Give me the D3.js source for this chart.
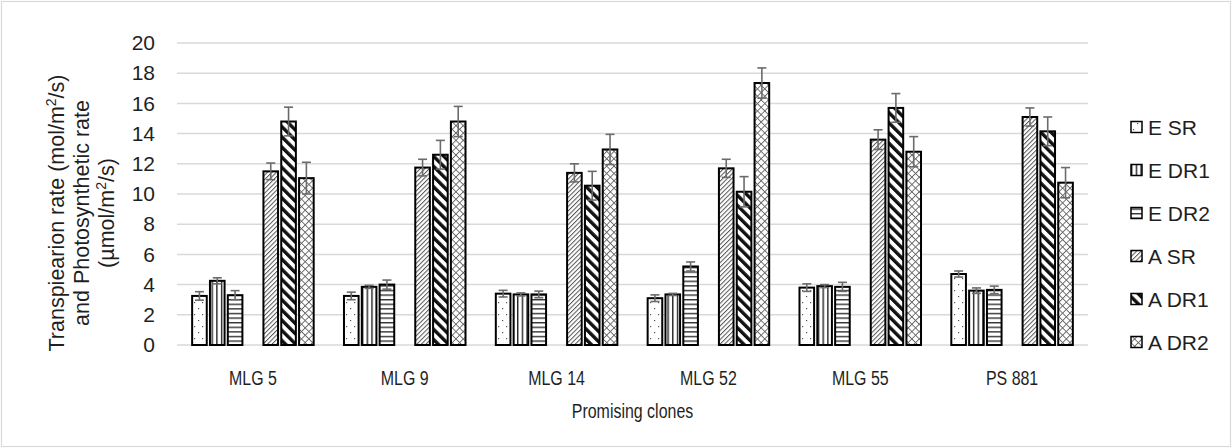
<!DOCTYPE html>
<html>
<head>
<meta charset="utf-8">
<script src="https://cdn.jsdelivr.net/npm/d3@7"></script>
<style>
  body { margin: 0; background: #fff; }
  text { font-family: "Liberation Sans", Arial, sans-serif; fill: #1f1f1f; }
</style>
</head>
<body>
<svg id="chart" width="1232" height="448"></svg>
<script>
// Clones on the x axis
const clones = ["MLG 5", "MLG 9", "MLG 14", "MLG 52", "MLG 55", "PS 881"];

// Series names (E = transpiration, A = photosynthesis; SR / DR1 / DR2 treatments)
const seriesNames = ["E SR", "E DR1", "E DR2", "A SR", "A DR1", "A DR2"];

// Means per clone
const eSR  = [3.25, 3.25, 3.40, 3.10, 3.80, 4.70];
const eDR1 = [4.25, 3.85, 3.35, 3.35, 3.90, 3.60];
const eDR2 = [3.30, 4.00, 3.35, 5.20, 3.85, 3.65];
const aSR  = [11.50, 11.75, 11.40, 11.70, 13.60, 15.10];
const aDR1 = [14.80, 12.60, 10.55, 10.15, 15.70, 14.15];
const aDR2 = [11.05, 14.80, 12.95, 17.35, 12.80, 10.75];

// Error bar half-lengths per clone
const eSRErr  = [0.28, 0.25, 0.22, 0.22, 0.25, 0.20];
const eDR1Err = [0.20, 0.10, 0.10, 0.07, 0.10, 0.18];
const eDR2Err = [0.30, 0.30, 0.22, 0.30, 0.30, 0.25];
const aSRErr  = [0.55, 0.55, 0.60, 0.60, 0.65, 0.60];
const aDR1Err = [0.95, 0.95, 0.95, 1.00, 0.95, 0.95];
const aDR2Err = [1.05, 1.00, 1.00, 1.00, 1.00, 1.00];

// Y axis ticks
const yTicks = [0, 2, 4, 6, 8, 10, 12, 14, 16, 18, 20];

const seriesValues = [eSR, eDR1, eDR2, aSR, aDR1, aDR2];
const seriesErrors = [eSRErr, eDR1Err, eDR2Err, aSRErr, aDR1Err, aDR2Err];
// Slot of each series inside a clone group (slot 3 stays empty between E and A)
const seriesSlots = [0, 1, 2, 4, 5, 6];
const patternIds = ["p-dots", "p-vlines", "p-hlines", "p-fine-diag", "p-wide-diag", "p-cross"];

const svg = d3.select("#chart");
const W = 1232, H = 448;
const plot = { left: 177, right: 1088, top: 43, bottom: 345 };

// Chart frame
svg.append("rect")
  .attr("x", 1.5).attr("y", 1.5).attr("width", W - 3).attr("height", H - 3)
  .attr("fill", "#fff").attr("stroke", "#d9d9d9").attr("stroke-width", 1.2);

// Fill patterns
const defs = svg.append("defs");
function pat(id, w, h, transform) {
  const p = defs.append("pattern").attr("id", id)
    .attr("patternUnits", "userSpaceOnUse").attr("width", w).attr("height", h);
  if (transform) p.attr("patternTransform", transform);
  p.append("rect").attr("width", w).attr("height", h).attr("fill", "#fff");
  return p;
}
{
  const p = pat("p-dots", 8, 12);
  p.append("rect").attr("x", 2).attr("y", 2).attr("width", 1.2).attr("height", 1.2).attr("fill", "#555");
  p.append("rect").attr("x", 6).attr("y", 8).attr("width", 1.2).attr("height", 1.2).attr("fill", "#555");
}
{
  const p = pat("p-vlines", 4.7, 4);
  p.append("rect").attr("x", 0).attr("y", 0).attr("width", 1.4).attr("height", 4).attr("fill", "#222");
}
{
  const p = pat("p-hlines", 4, 4.6);
  p.append("rect").attr("x", 0).attr("y", 0).attr("width", 4).attr("height", 1.4).attr("fill", "#333");
}
{
  const p = pat("p-fine-diag", 3.2, 4, "rotate(45)");
  p.append("rect").attr("x", 0).attr("y", 0).attr("width", 1.0).attr("height", 4).attr("fill", "#555");
}
{
  const p = pat("p-wide-diag", 7.2, 4, "rotate(-45)");
  p.append("rect").attr("x", 0).attr("y", 0).attr("width", 3.4).attr("height", 4).attr("fill", "#111");
}
{
  const p = pat("p-cross", 5.2, 5.2, "rotate(45)");
  p.append("rect").attr("x", 0).attr("y", 0).attr("width", 0.9).attr("height", 5.2).attr("fill", "#666");
  p.append("rect").attr("x", 0).attr("y", 0).attr("width", 5.2).attr("height", 0.9).attr("fill", "#666");
}

// Scales
const x0 = d3.scaleBand().domain(clones).range([plot.left, plot.right]).paddingInner(0).paddingOuter(0);
const x1 = d3.scaleBand().domain(d3.range(7)).range([0, x0.bandwidth()]).paddingInner(0.18).paddingOuter(0.85);
const y = d3.scaleLinear().domain([0, 20]).range([plot.bottom, plot.top]);

// Gridlines
svg.append("g").selectAll("line").data(yTicks).join("line")
  .attr("x1", plot.left).attr("x2", plot.right)
  .attr("y1", d => y(d)).attr("y2", d => y(d))
  .attr("stroke", "#d9d9d9").attr("stroke-width", 1.5);

// Y axis labels
const yAxis = svg.append("g")
  .attr("transform", `translate(${plot.left},0)`)
  .call(d3.axisLeft(y).tickValues(yTicks).tickSize(0).tickPadding(22));
yAxis.select(".domain").remove();
yAxis.selectAll("text").attr("font-size", 21).attr("font-family", "Liberation Sans, Arial, sans-serif").attr("fill", "#1f1f1f");

// X axis labels (narrow set)
const xAxis = svg.append("g")
  .attr("transform", `translate(0,${plot.bottom})`)
  .call(d3.axisBottom(x0).tickSize(0).tickPadding(25));
xAxis.select(".domain").remove();
xAxis.selectAll("text").attr("font-size", 21).attr("font-family", "Liberation Sans, Arial, sans-serif")
  .attr("fill", "#1f1f1f").attr("transform", "scale(0.76,1)");

// Bars
const bars = [];
seriesValues.forEach((vals, si) => {
  vals.forEach((v, ci) => bars.push({ si, ci, v, e: seriesErrors[si][ci] }));
});
svg.append("g").selectAll("rect").data(bars).join("rect")
  .attr("x", d => x0(clones[d.ci]) + x1(seriesSlots[d.si]))
  .attr("y", d => y(d.v))
  .attr("width", x1.bandwidth())
  .attr("height", d => y(0) - y(d.v))
  .attr("fill", d => `url(#${patternIds[d.si]})`)
  .attr("stroke", "#000").attr("stroke-width", 2);

// Error bars
const eg = svg.append("g").attr("stroke", "#6b6b6b").attr("stroke-width", 1.6);
bars.forEach(d => {
  const cx = x0(clones[d.ci]) + x1(seriesSlots[d.si]) + x1.bandwidth() / 2;
  const hi = y(d.v + d.e), lo = y(d.v - d.e);
  eg.append("line").attr("x1", cx).attr("x2", cx).attr("y1", hi).attr("y2", lo);
  eg.append("line").attr("x1", cx - 4.5).attr("x2", cx + 4.5).attr("y1", hi).attr("y2", hi);
  eg.append("line").attr("x1", cx - 4.5).attr("x2", cx + 4.5).attr("y1", lo).attr("y2", lo);
});

// Legend
const legend = svg.append("g").attr("transform", "translate(1131,127)");
const legendStep = 43;
seriesNames.forEach((name, i) => {
  const g = legend.append("g").attr("transform", `translate(0,${i * legendStep})`);
  g.append("rect").attr("x", 0).attr("y", -5.5).attr("width", 11).attr("height", 11)
    .attr("fill", `url(#${patternIds[i]})`).attr("stroke", "#000").attr("stroke-width", 1.5);
  g.append("text").attr("x", 17).attr("y", 0).attr("dy", "0.36em")
    .attr("font-size", 21).text(name);
});

// Y axis title (three lines)
const yTitle = svg.append("text")
  .attr("transform", `translate(0,${(plot.top + plot.bottom) / 2 + 19}) rotate(-90)`)
  .attr("text-anchor", "middle").attr("font-size", 21.5);
function line(textEl, x, parts) {
  // parts: array of [string, isSuperscript]; superscripts are raised and the baseline restored after
  const t = textEl.append("tspan").attr("x", 0).attr("y", x);
  let raised = false;
  parts.forEach(([s, sup]) => {
    const sp = t.append("tspan").text(s);
    if (sup) { sp.attr("dy", -8).attr("font-size", 14); raised = true; }
    else if (raised) { sp.attr("dy", 8); raised = false; }
  });
}
line(yTitle, 64, [["Transpiearion rate  (mol/m", false], ["2", true], ["/s)", false]]);
line(yTitle, 89, [["and  Photosynthetic rate", false]]);
line(yTitle, 114, [["(µmol/m", false], ["2", true], ["/s)", false]]);

// X axis title
svg.append("g")
  .attr("transform", `translate(${(plot.left + plot.right) / 2},418) scale(0.76,1)`)
  .append("text")
  .attr("text-anchor", "middle").attr("font-size", 21)
  .text("Promising clones");
</script>
</body>
</html>
